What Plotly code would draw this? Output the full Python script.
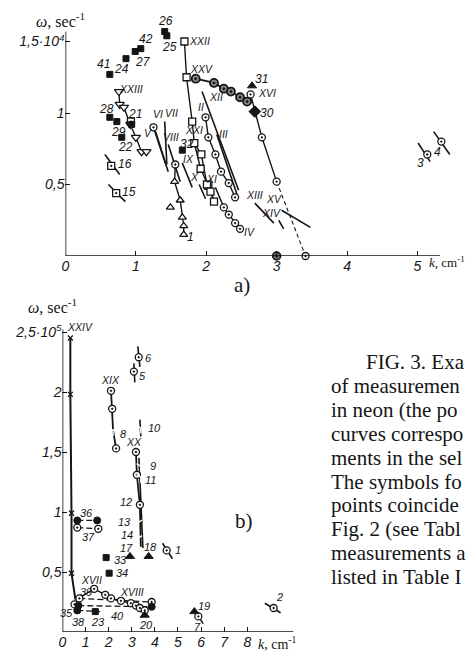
import plotly.graph_objects as go

# ---------------- Panel a) : k (cm^-1) vs omega (10^4 sec^-1) ----------------
A_XXII_k = [1.69, 1.72, 1.80, 1.83, 1.92, 2.03, 2.11]
A_XXII_w = [1.50, 1.25, 0.94, 0.79, 0.61, 0.49, 0.38]
A_XXI_k = [1.83, 1.93, 2.01, 2.06, 2.13]
A_XXI_w = [0.79, 0.71, 0.50, 0.45, 0.37]
A_XXV_k = [1.85, 2.11, 2.25, 2.35, 2.48, 2.58]
A_XXV_w = [1.24, 1.21, 1.17, 1.15, 1.11, 1.08]
A_XVI_k = [2.63, 2.69, 2.79, 3.00]
A_XVI_w = [1.13, 1.01, 0.83, 0.52]
A_XVI_dash_k = [3.00, 3.41]
A_XVI_dash_w = [0.52, 0.0]
A_II_k = [1.99, 2.03, 2.13, 2.21, 2.32, 2.41]
A_II_w = [0.97, 0.83, 0.71, 0.59, 0.51, 0.41]
A_IV_k = [2.13, 2.25, 2.32, 2.41, 2.48]
A_IV_w = [0.48, 0.34, 0.29, 0.23, 0.19]
A_P1_k = [1.56, 1.55, 1.63, 1.66, 1.68, 1.68]
A_P1_w = [0.64, 0.52, 0.39, 0.27, 0.21, 0.15]
A_XXIII_k = [0.76, 0.77, 0.83, 0.92, 1.00, 1.08]
A_XXIII_w = [1.15, 1.06, 1.04, 0.92, 0.83, 0.73]
# plain straight curves (segments separated by None)
A_SEG_k = [1.94, 2.46, None, 2.15, 2.45, None, 1.25, 1.46, None, 1.28, 1.42, None,
           1.41, 1.44, None, 1.46, 1.63, None, 1.66, 1.80, None, 1.90, 1.99, None,
           2.69, 2.96, None, 3.03, 3.10, None, 3.07, 3.48, None,
           0.56, 0.77, None, 0.61, 0.85, None, 5.01, 5.18, None, 5.23, 5.46]
A_SEG_w = [1.15, 0.46, None, 0.85, 0.41, None, 0.90, 0.59, None, 0.87, 0.65, None,
           0.94, 0.64, None, 0.78, 0.52, None, 0.65, 0.48, None, 0.50, 0.40, None,
           0.37, 0.23, None, 0.25, 0.19, None, 0.32, 0.20, None,
           0.71, 0.57, None, 0.50, 0.38, None, 0.79, 0.66, None, 0.87, 0.71]
A_FSQ_k = [1.41, 1.44, 1.07, 0.99, 0.86, 0.63, 0.94, 0.63, 0.73, 0.80, 1.66]
A_FSQ_w = [1.57, 1.54, 1.45, 1.43, 1.38, 1.27, 0.92, 0.97, 0.94, 0.83, 0.74]
A_OSQ_k = [0.93, 0.65, 0.72]
A_OSQ_w = [0.94, 0.63, 0.44]
A_OCIR_k = [2.63, 2.79, 3.00, 3.41, 1.25, 5.14, 5.34]
A_OCIR_w = [1.13, 0.83, 0.52, 0.0, 0.90, 0.71, 0.80]
A_FCIR_k = [3.00]
A_FCIR_w = [0.0]
A_TRI_k = [1.49]
A_TRI_w = [0.34]
A_TRID_k = [1.15]
A_TRID_w = [0.73]
A_31_k = [2.65]
A_31_w = [1.19]
A_30_k = [2.69]
A_30_w = [1.01]
A_LAB = ["26", "25", "XXII", "42", "27", "24", "41", "XXV", "31", "XVI", "30", "XII", "II",
         "III", "XXIII", "21", "28", "29", "22", "VI", "VII", "V", "VIII", "32", "XXI", "IX",
         "X", "XI", "IV", "1", "XIII", "XV", "XIV", "16", "15", "3", "4"]
A_LAB_k = [1.42, 1.48, 1.90, 1.14, 1.10, 0.79, 0.54, 1.93, 2.79, 2.86, 2.87, 2.14, 1.92,
           2.24, 0.93, 0.99, 0.59, 0.75, 0.85, 1.31, 1.51, 1.17, 1.50, 1.73, 1.82, 1.75,
           1.83, 2.08, 2.62, 1.77, 2.68, 2.96, 2.93, 0.85, 0.90, 5.04, 5.28]
A_LAB_w = [1.64, 1.46, 1.50, 1.52, 1.36, 1.31, 1.34, 1.31, 1.24, 1.14, 1.00, 1.11, 1.04,
           0.85, 1.17, 0.99, 1.03, 0.87, 0.76, 0.99, 1.00, 0.86, 0.83, 0.78, 0.88, 0.68,
           0.55, 0.54, 0.17, 0.13, 0.43, 0.40, 0.30, 0.64, 0.45, 0.65, 0.73]

# ---------------- Panel b) : k (cm^-1) vs omega (10^5 sec^-1) ----------------
B_XXIV_k = [0.34, 0.34, 0.39, 0.39, 0.56]
B_XXIV_w = [2.45, 1.98, 0.99, 0.49, 0.27]
B_XIX_k = [2.10, 2.15, 2.19, 2.32]
B_XIX_w = [2.01, 1.86, 1.68, 1.53]
B_XX_k = [3.18, 3.22, 3.35, 3.39]
B_XX_w = [1.50, 1.31, 1.06, 0.71]
B_XVII_k = [0.69, 1.37, 1.85, 2.10, 2.53, 2.96, 3.18, 3.35, 3.56]
B_XVII_w = [0.28, 0.36, 0.31, 0.28, 0.26, 0.24, 0.22, 0.20, 0.18]
B_DASH_k = [0.64, 1.50, None, 0.64, 1.55, None, 0.73, 3.86, None, 0.69, 3.86, None, 0.64, 1.63]
B_DASH_w = [0.93, 0.93, None, 0.87, 0.86, None, 0.28, 0.25, None, 0.22, 0.21, None, 0.18, 0.17]
B_SEG_k = [3.26, 3.35, None, 3.09, 3.13, None, 3.35, 3.39, None, 3.31, 3.48, None,
           4.33, 4.76, None, 5.71, 6.09, None, 8.76, 9.44]
B_SEG_w = [2.38, 2.21, None, 2.24, 2.08, None, 1.77, 1.63, None, 1.45, 0.70, None,
           0.74, 0.61, None, 0.18, 0.07, None, 0.24, 0.16]
B_OCIR_k = [3.30, 3.09, 2.10, 2.15, 2.32, 3.18, 3.22, 3.35, 4.51, 0.64, 1.55, 0.73, 3.86, 5.88, 9.14, 0.52,
            1.37, 1.85, 2.10, 2.53, 2.96, 3.18, 3.35, 3.56]
B_OCIR_w = [2.29, 2.17, 2.01, 1.86, 1.53, 1.50, 1.31, 1.06, 0.68, 0.87, 0.86, 0.28, 0.25, 0.13, 0.20, 0.23,
            0.36, 0.31, 0.28, 0.26, 0.24, 0.22, 0.20, 0.18]
B_FCIR_k = [0.64, 1.50, 0.69, 3.86, 0.64]
B_FCIR_w = [0.93, 0.93, 0.22, 0.21, 0.18]
B_YDN_k = [2.19, 3.39, 3.39, 3.39, 3.26, 3.26]
B_YDN_w = [1.68, 1.70, 1.38, 1.29, 0.91, 0.78]
B_FTRI_k = [2.92, 3.73, 3.56, 5.71]
B_FTRI_w = [0.63, 0.63, 0.14, 0.17]
B_FSQ_k = [1.89, 2.02, 1.42]
B_FSQ_w = [0.62, 0.49, 0.17]
B_LAB = ["XXIV", "6", "5", "XIX", "8", "10", "XX", "9", "11", "12", "13", "14", "17", "18",
         "1", "36", "37", "33", "34", "XVII", "39", "XVIII", "35", "38", "23", "40", "20",
         "19", "7", "2"]
B_LAB_k = [0.75, 3.73, 3.48, 2.06, 2.66, 3.99, 3.09, 3.91, 3.82, 2.75, 2.70, 2.79, 2.79, 3.82,
           4.98, 1.03, 1.12, 2.50, 2.58, 1.24, 1.03, 3.00, 0.17, 0.69, 1.55, 2.40, 3.61,
           6.14, 5.84, 9.40]
B_LAB_w = [2.54, 2.28, 2.13, 2.10, 1.65, 1.70, 1.58, 1.38, 1.27, 1.08, 0.92, 0.805, 0.70, 0.71,
           0.68, 0.99, 0.79, 0.60, 0.49, 0.43, 0.33, 0.33, 0.16, 0.08, 0.08, 0.13, 0.06,
           0.22, 0.04, 0.29]

# axis extents and ticks
A_KMAX, A_WMAX = 5.32, 1.57
B_KMAX, B_WMAX = 10.0, 2.52
A_XT = [0, 1, 2, 3, 4, 5]
A_XT_TXT = ["0", "1", "2", "3", "4", "5"]
A_YT = [0.5, 1.0, 1.5]
A_YT_TXT = ["0,5", "1", "1,5·10<sup>4</sup>"]
B_XT = [0, 1, 2, 3, 4, 5, 6, 7, 8]
B_XT_TXT = ["0", "1", "2", "3", "4", "5", "6", "7", "8"]
B_YT = [0.5, 1.0, 1.5, 2.0, 2.5]
B_YT_TXT = ["0,5", "1", "1,5", "2", "2,5·10<sup>5</sup>"]

CAPTION = ["FIG. 3. Exa", "of measuremen", "in neon (the po", "curves correspo",
           "ments in the sel", "The symbols fo", "points coincide", "Fig. 2 (see Tabl",
           "measurements a", "listed in Table I"]

INK = "#151515"
W, H = 467, 653
fig = go.Figure()


def line(k, w, xa, ya, dash="solid", width=1.4):
    fig.add_trace(go.Scatter(x=k, y=w, xaxis=xa, yaxis=ya, mode="lines",
                             line=dict(color=INK, width=width, dash=dash),
                             connectgaps=False, showlegend=False, hoverinfo="skip"))


def marks(k, w, xa, ya, symbol, size=7, lw=1.3, fill="white"):
    fig.add_trace(go.Scatter(x=k, y=w, xaxis=xa, yaxis=ya, mode="markers", cliponaxis=False,
                             marker=dict(symbol=symbol, size=size, color=fill,
                                         line=dict(color=INK, width=lw)),
                             showlegend=False, hoverinfo="skip"))


# panel a
line(A_XXII_k, A_XXII_w, "x", "y")
line(A_XXI_k, A_XXI_w, "x", "y")
line(A_XXV_k, A_XXV_w, "x", "y", width=1.8)
line(A_XVI_k, A_XVI_w, "x", "y")
line(A_XVI_dash_k, A_XVI_dash_w, "x", "y", dash="4px,3px", width=1.1)
line(A_II_k, A_II_w, "x", "y")
line(A_IV_k, A_IV_w, "x", "y")
line(A_P1_k, A_P1_w, "x", "y")
line(A_XXIII_k, A_XXIII_w, "x", "y")
line(A_SEG_k, A_SEG_w, "x", "y", width=1.6)
marks(A_XXII_k, A_XXII_w, "x", "y", "square", 7)
marks(A_XXI_k[1:4], A_XXI_w[1:4], "x", "y", "square", 7)
marks(A_XXV_k, A_XXV_w, "x", "y", "circle-dot", 8, 1.8, fill="#8a8a8a")
marks(A_II_k, A_II_w, "x", "y", "circle-dot", 7)
marks(A_IV_k[1:], A_IV_w[1:], "x", "y", "circle-dot", 7)
marks(A_P1_k[1:], A_P1_w[1:], "x", "y", "triangle-up", 7)
marks(A_P1_k[:1], A_P1_w[:1], "x", "y", "circle-dot", 7)
marks(A_XXIII_k, A_XXIII_w, "x", "y", "triangle-down", 8)
marks(A_TRID_k, A_TRID_w, "x", "y", "triangle-down", 8)
marks(A_TRI_k, A_TRI_w, "x", "y", "triangle-up", 7)
marks(A_OSQ_k, A_OSQ_w, "x", "y", "square-dot", 7)
marks(A_OCIR_k, A_OCIR_w, "x", "y", "circle-dot", 7)
marks(A_FCIR_k, A_FCIR_w, "x", "y", "circle-dot", 8, 1.5, fill="#666")
marks(A_FSQ_k, A_FSQ_w, "x", "y", "square", 6, 1, fill=INK)
marks(A_31_k, A_31_w, "x", "y", "triangle-up", 8, 1, fill=INK)
marks(A_30_k, A_30_w, "x", "y", "diamond", 9, 1, fill=INK)

# panel b
line(B_XXIV_k, B_XXIV_w, "x2", "y2", width=2.0)
line(B_XIX_k, B_XIX_w, "x2", "y2", width=1.8)
line(B_XX_k, B_XX_w, "x2", "y2", width=1.8)
line(B_XVII_k, B_XVII_w, "x2", "y2")
line(B_DASH_k, B_DASH_w, "x2", "y2", dash="6px,3px", width=1.3)
line(B_SEG_k, B_SEG_w, "x2", "y2", width=1.6)
marks(B_XXIV_k[:4], B_XXIV_w[:4], "x2", "y2", "x-thin", 5, 1.3)
marks(B_OCIR_k, B_OCIR_w, "x2", "y2", "circle-dot", 7)
marks(B_FCIR_k, B_FCIR_w, "x2", "y2", "circle", 7, 1, fill=INK)
marks(B_YDN_k, B_YDN_w, "x2", "y2", "y-down-open", 7, 1.4)
marks(B_FTRI_k, B_FTRI_w, "x2", "y2", "triangle-up", 8, 1, fill=INK)
marks(B_FSQ_k, B_FSQ_w, "x2", "y2", "square", 6, 1, fill=INK)

LBL_FONT = dict(family="Liberation Sans", size=12, color=INK, style="italic")
ROMAN = ("I", "V", "X")
anns = []
for t, k, w in zip(A_LAB, A_LAB_k, A_LAB_w):
    anns.append(dict(text=t, x=k, y=w, xref="x", yref="y", showarrow=False,
                     xanchor="center", yanchor="middle",
                     font=dict(LBL_FONT, size=10.5 if t.startswith(ROMAN) else 12)))
for t, k, w in zip(B_LAB, B_LAB_k, B_LAB_w):
    anns.append(dict(text=t, x=k, y=w, xref="x2", yref="y2", showarrow=False,
                     xanchor="center", yanchor="middle",
                     font=dict(LBL_FONT, size=10.5 if t.startswith(ROMAN) else 11)))

SERIF = dict(family="Liberation Serif", color=INK)
px = lambda x: x / W
py = lambda y: 1 - y / H


def ptext(t, x, y, size, xanchor="center"):
    anns.append(dict(text=t, x=px(x), y=py(y), xref="paper", yref="paper",
                     xanchor=xanchor, yanchor="middle", showarrow=False,
                     font=dict(SERIF, size=size)))


ptext("<i>ω</i>, sec<sup>-1</sup>", 57, 20, 16)
ptext("<i>ω</i>, sec<sup>-1</sup>", 49, 306, 16)
ptext("<i>k</i>, cm<sup>-1</sup>", 427, 262, 13, "left")
ptext("<i>k</i>, cm<sup>-1</sup>", 254, 643, 14, "left")
ptext("a)", 240, 285, 21)
ptext("b)", 242, 521, 21)
for i, t in enumerate(CAPTION):
    ptext(t, 363 if i == 0 else 328, 362 + 23.9 * i, 21, "left")

# axis lines drawn in data coordinates so they stop where the originals stop
AXL = dict(color=INK, width=1.6)
shapes = [
    dict(type="line", xref="x", yref="y", x0=0, x1=A_KMAX, y0=0, y1=0, line=AXL),
    dict(type="line", xref="x", yref="y", x0=0, x1=0, y0=0, y1=A_WMAX, line=AXL),
    dict(type="line", xref="x2", yref="y2", x0=0, x1=B_KMAX, y0=0, y1=0, line=AXL),
    dict(type="line", xref="x2", yref="y2", x0=0, x1=0, y0=0, y1=B_WMAX, line=AXL),
]

TICKF = dict(family="Liberation Sans", size=14, color=INK, style="italic")
ax = dict(showgrid=False, zeroline=False, showline=False,
          ticks="inside", ticklen=5, tickcolor=INK, tickwidth=1.2, tickfont=TICKF)

fig.update_layout(
    width=W, height=H, margin=dict(l=0, r=0, t=0, b=0),
    paper_bgcolor="white", plot_bgcolor="white", showlegend=False,
    xaxis=dict(ax, domain=[px(62), px(452.5)], range=[0, 5.5], anchor="y",
               tickvals=A_XT, ticktext=A_XT_TXT),
    yaxis=dict(ax, domain=[py(256), py(12.9)], range=[0, 1.70], anchor="x",
               tickvals=A_YT, ticktext=A_YT_TXT),
    xaxis2=dict(ax, domain=[px(59), px(292)], range=[0, 10.0], anchor="y2",
                tickvals=B_XT, ticktext=B_XT_TXT),
    yaxis2=dict(ax, domain=[py(632), py(322.4)], range=[0, 2.58], anchor="x2",
                tickvals=B_YT, ticktext=B_YT_TXT),
    annotations=anns, shapes=shapes,
)

fig.write_html("out.html")
